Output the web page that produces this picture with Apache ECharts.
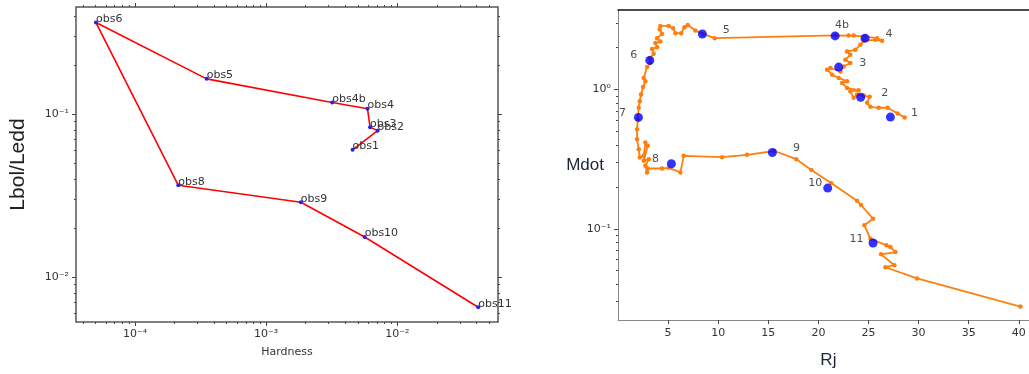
<!DOCTYPE html>
<html>
<head>
<meta charset="utf-8">
<script src="https://cdn.jsdelivr.net/npm/echarts@6.0.0/dist/echarts.min.js"></script>
<style>
  html, body { margin: 0; padding: 0; background: #ffffff; overflow: hidden; }
  #chart { width: 1045px; height: 374px; }
</style>
</head>
<body>
<div id="chart"></div>
<script>
// ---------------- Left panel: Lbol/Ledd vs Hardness ----------------
const obsNames = ['obs1', 'obs2', 'obs3', 'obs4', 'obs4b', 'obs5', 'obs6', 'obs8', 'obs9', 'obs10', 'obs11'];
const hardness = [4.56e-3, 7.08e-3, 6.2e-3, 5.93e-3, 3.19e-3, 3.52e-4, 5.04e-5, 2.14e-4, 1.84e-3, 5.64e-3, 0.0414];
const lbolLedd = [0.0605, 0.0793, 0.0832, 0.108, 0.118, 0.165, 0.366, 0.0366, 0.0288, 0.0176, 0.00652];

const hardnessMajorTicks = [1e-4, 1e-3, 1e-2];
const lbolMajorTicks = [1e-2, 1e-1];

// ---------------- Right panel: Mdot vs Rj ----------------
const trackRj = [
  28.61, 27.91, 26.92, 26.02, 25.19, 24.86, 25.12, 24.52, 23.86, 23.52,
  23.19, 24.02, 22.86, 22.37, 22.86, 22.03, 21.37, 20.87, 21.20, 22.20,
  22.53, 23.19, 22.69, 23.19, 22.86, 23.69, 24.19, 24.52, 25.69, 26.36,
  25.86, 24.69, 23.52, 23.02, 21.70, 9.65, 8.49, 7.72, 6.96, 6.63,
  6.30, 5.73, 5.50, 5.06, 4.23, 4.16, 4.40, 3.90, 4.23, 3.73,
  3.90, 3.40, 3.56, 3.16, 3.23, 2.90, 2.57, 2.73, 2.50, 2.30,
  2.17, 2.07, 1.97, 1.90, 1.90, 2.07, 2.17, 2.57, 2.73, 2.97,
  2.57, 3.07, 2.73, 2.90, 2.97, 4.40, 5.06, 6.23, 6.56, 10.39,
  12.88, 15.61, 17.80, 19.30, 21.27, 23.86, 24.26, 25.46, 24.59, 25.19,
  26.79, 27.19, 27.69, 26.26, 27.59, 26.69, 29.85, 40.16
];
const trackMdot = [
  0.631, 0.674, 0.740, 0.740, 0.752, 0.803, 0.887, 0.906, 0.921, 0.872,
  0.972, 0.989, 1.028, 1.116, 1.146, 1.212, 1.280, 1.389, 1.429, 1.351,
  1.467, 1.552, 1.637, 1.778, 1.878, 1.931, 2.096, 2.250, 2.276, 2.239,
  2.340, 2.403, 2.443, 2.443, 2.450, 2.340, 2.512, 2.653, 2.912, 2.805,
  2.541, 2.541, 2.760, 2.864, 2.864, 2.714, 2.512, 2.340, 2.213, 2.157,
  2.018, 1.953, 1.807, 1.684, 1.552, 1.452, 1.212, 1.146, 1.045, 0.921,
  0.826, 0.740, 0.610, 0.518, 0.439, 0.373, 0.325, 0.334, 0.416, 0.394,
  0.308, 0.316, 0.283, 0.254, 0.271, 0.271, 0.274, 0.254, 0.334, 0.327,
  0.340, 0.362, 0.316, 0.264, 0.213, 0.159, 0.148, 0.118, 0.106, 0.0848,
  0.076, 0.074, 0.068, 0.0655, 0.0547, 0.0529, 0.0440, 0.0276
];

const modelNames = ['1', '2', '3', '4', '4b', '5', '6', '7', '8', '9', '10', '11'];
const modelRj = [27.19, 24.22, 22.03, 24.66, 21.67, 8.42, 3.17, 2.04, 5.33, 15.41, 20.93, 25.46];
const modelMdot = [0.634, 0.881, 1.45, 2.34, 2.43, 2.51, 1.62, 0.631, 0.293, 0.353, 0.196, 0.079];

const rjTicks = [5, 10, 15, 20, 25, 30, 35, 40];
const mdotMajorTicks = [0.1, 1];

// ---------------- helpers (styling / ticks) ----------------
function minorLogTicks(lo, hi) {
  const out = [];
  for (let e = Math.floor(Math.log10(lo)); e <= Math.ceil(Math.log10(hi)); e++) {
    for (let m = 2; m <= 9; m++) {
      const v = m * Math.pow(10, e);
      if (v > lo && v < hi) out.push(v);
    }
  }
  return out;
}
const SUP = {'-': '\u207B', '0': '\u2070', '1': '\u00B9', '2': '\u00B2', '3': '\u00B3',
  '4': '\u2074', '5': '\u2075', '6': '\u2076', '7': '\u2077', '8': '\u2078', '9': '\u2079'};
function powLabel(v) {
  const e = Math.round(Math.log10(v));
  return '10' + String(e).split('').map(c => SUP[c]).join('');
}

const HX = [3.55e-5, 0.0586];
const LY = [0.00529, 0.456];
const RX = [0, 42];
const MY = [0.0221, 3.73];

const tickColor = '#444';
const labelFont = { fontFamily: 'DejaVu Sans', fontSize: 11, color: '#333' };

function logAxisPair(gridIndex, ext, major, position, showLabels, extra) {
  const base = {
    type: 'log', gridIndex: gridIndex, min: ext[0], max: ext[1], position: position,
    axisLine: { show: false }, splitLine: { show: false }, silent: true
  };
  const majorAxis = Object.assign({}, base, {
    axisTick: { show: true, inside: false, length: 4, customValues: major, lineStyle: { color: tickColor, width: 1 } },
    axisLabel: showLabels
      ? Object.assign({ show: true, customValues: major, formatter: powLabel, margin: 7 }, labelFont)
      : { show: false }
  }, extra || {});
  const minorAxis = Object.assign({}, base, {
    axisTick: { show: true, inside: false, length: 2, customValues: minorLogTicks(ext[0], ext[1]), lineStyle: { color: tickColor, width: 1 } },
    axisLabel: { show: false }
  });
  return [majorAxis, minorAxis];
}

// right panel label placement (style only)
const modelLabelPlace = {
  '1': ['right', 16, -4], '2': ['right', 16, -4], '3': ['right', 16, -4], '4': ['right', 16, -4],
  '4b': ['top', 1, 7], '5': ['right', 16, -4], '6': ['left', 8, -5], '7': ['left', 8, -4],
  '8': ['left', 8, -5], '9': ['right', 16, -4], '10': ['left', 1, -5], '11': ['left', 5, -4]
};

const leftData = obsNames.map((n, i) => ({ name: n, value: [hardness[i], lbolLedd[i]] }));
const trackData = trackRj.map((x, i) => [x, trackMdot[i]]);
const modelData = modelNames.map((n, i) => {
  const p = modelLabelPlace[n];
  return {
    name: n, value: [modelRj[i], modelMdot[i]],
    label: p[0] === 'top'
      ? { position: 'top', distance: p[1], offset: [p[2], 0] }
      : { position: p[0], distance: p[1], offset: [0, p[2]] }
  };
});

const xAxes = [].concat(
  logAxisPair(0, HX, hardnessMajorTicks, 'bottom', true, {
    name: 'Hardness', nameLocation: 'middle', nameGap: 25,
    nameTextStyle: { fontFamily: 'DejaVu Sans', fontSize: 11, color: '#333' }
  }),
  logAxisPair(0, HX, hardnessMajorTicks, 'top', false),
  [
    {
      type: 'value', gridIndex: 1, min: RX[0], max: RX[1], position: 'bottom',
      axisLine: { show: true, onZero: false, lineStyle: { color: '#888', width: 1 } },
      axisTick: { show: true, length: 4, customValues: rjTicks, lineStyle: { color: tickColor } },
      axisLabel: Object.assign({ customValues: rjTicks, margin: 8 }, labelFont),
      splitLine: { show: false },
      name: 'Rj', nameLocation: 'middle', nameGap: 32,
      nameTextStyle: { fontFamily: 'Liberation Sans', fontSize: 17, color: '#1c2438' }
    },
    {
      type: 'value', gridIndex: 1, min: RX[0], max: RX[1], position: 'top',
      axisLine: { show: true, onZero: false, lineStyle: { color: '#111', width: 1.5 } },
      axisTick: { show: false }, axisLabel: { show: false }, splitLine: { show: false }
    }
  ]
);

const yAxes = [].concat(
  logAxisPair(0, LY, lbolMajorTicks, 'left', true, {
    name: 'Lbol/Ledd', nameLocation: 'middle', nameGap: 47,
    nameTextStyle: { fontFamily: 'Liberation Sans', fontSize: 21, color: '#222' }
  }),
  logAxisPair(0, LY, lbolMajorTicks, 'right', false),
  logAxisPair(1, MY, mdotMajorTicks, 'left', true, {
    name: 'Mdot', nameLocation: 'middle', nameRotate: 0, nameGap: 14, nameMoveOverlap: false,
    nameTextStyle: { fontFamily: 'Liberation Sans', fontSize: 17, color: '#1c2438', align: 'right', verticalAlign: 'middle' }
  })
);
// right panel left axis line
yAxes[4].axisLine = { show: true, onZero: false, lineStyle: { color: '#888', width: 1 } };

const option = {
  animation: false,
  backgroundColor: '#ffffff',
  grid: [
    { left: 76, top: 7, width: 422, height: 315, show: true, borderColor: '#555', borderWidth: 1.5, backgroundColor: 'transparent' },
    { left: 618, top: 10, width: 420.8, height: 311.7, show: false }
  ],
  xAxis: xAxes,
  yAxis: yAxes,
  series: [
    {
      type: 'line', xAxisIndex: 0, yAxisIndex: 0, data: leftData,
      symbol: 'circle', symbolSize: 4, showSymbol: true,
      itemStyle: { color: '#2020ff' },
      lineStyle: { color: '#ff0000', width: 1.6 },
      label: {
        show: true, formatter: p => p.name, position: ['50%', '50%'],
        align: 'left', verticalAlign: 'bottom', offset: [0, 2],
        fontFamily: 'DejaVu Sans', fontSize: 11, color: '#333'
      },
      z: 3
    },
    {
      type: 'line', xAxisIndex: 4, yAxisIndex: 4, data: trackData,
      symbol: 'circle', symbolSize: 4.5, showSymbol: true,
      itemStyle: { color: '#ff7f0e' },
      lineStyle: { color: '#ff7f0e', width: 1.8 },
      z: 3
    },
    {
      type: 'scatter', xAxisIndex: 4, yAxisIndex: 4, data: modelData,
      symbol: 'circle', symbolSize: 9,
      itemStyle: { color: '#0000ff' },
      label: { show: true, formatter: p => p.name, fontFamily: 'DejaVu Sans', fontSize: 11, color: '#222' },
      z: 4
    }
  ]
};

const chart = echarts.init(document.getElementById('chart'), null, { renderer: 'canvas' });
chart.setOption(option);
</script>
</body>
</html>
